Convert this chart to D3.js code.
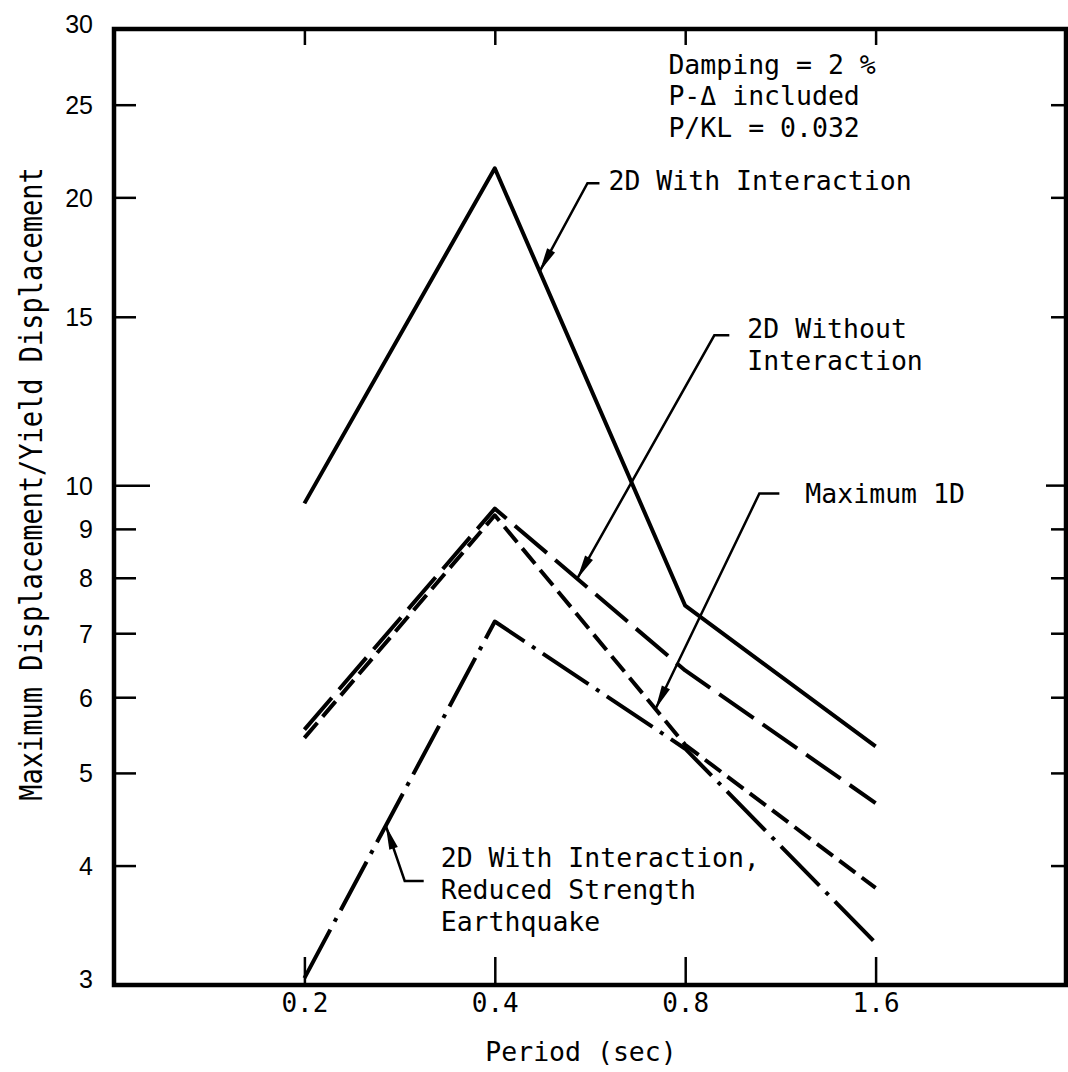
<!DOCTYPE html>
<html>
<head>
<meta charset="utf-8">
<script src="https://cdn.jsdelivr.net/npm/d3@7"></script>
<style>
  html, body { margin: 0; padding: 0; background: #fff; }
  svg { display: block; }
  .mono { font-family: "DejaVu Sans Mono", "Liberation Mono", monospace; fill: #000; }
  .sans { font-family: "Liberation Sans", Arial, sans-serif; fill: #000; }
</style>
</head>
<body>
<svg id="chart" width="1068" height="1072"></svg>
<script>
// Period (sec) and tick labels
const periods = [0.2, 0.4, 0.8, 1.6];
const periodLabels = ["0.2", "0.4", "0.8", "1.6"];
const ratioTicks = [30, 25, 20, 15, 10, 9, 8, 7, 6, 5, 4, 3];

// Maximum displacement / yield displacement for each case
const with2D      = [9.57, 21.45, 7.48, 5.33];  // 2D With Interaction
const without2D   = [5.55, 9.45, 6.40, 4.65];   // 2D Without Interaction
const maximum1D   = [5.44, 9.30, 5.35, 3.79];   // Maximum 1D
const reduced2D   = [3.05, 7.20, 5.30, 3.32];   // 2D With Interaction, Reduced Strength Earthquake

const seriesList = [with2D, without2D, maximum1D, reduced2D];
const seriesDash = [null, "42,11", "20,8", "55,9,4,9"];

const infoLines = ["Damping = 2 %", "P-\u0394 included", "P/KL = 0.032"];

// Callouts: label lines, text anchor (period, ratio), arrow tip on a series at a period
const notes = [
  { lines: ["2D With Interaction"], at: [0.605, 20.35], tip: { series: 0, period: 0.471 }, gap: 9,  hook: 12, hookDy: -7 },
  { lines: ["2D Without", "Interaction"], at: [1.003, 14.24], tip: { series: 1, period: 0.540 }, gap: 18, hook: 15, hookDy: -3 },
  { lines: ["Maximum 1D"], at: [1.239, 9.59], tip: { series: 2, period: 0.718 }, gap: 26, hook: 20, hookDy: -9 },
  { lines: ["2D With Interaction,", "Reduced Strength", "Earthquake"], at: [0.3285, 3.987], tip: { series: 3, period: 0.269 }, gap: 17, hook: 19, hookDy: 14 }
];

const svg = d3.select("#chart");
const box = { left: 114, right: 1066, top: 29, bottom: 985 };

const x = d3.scaleLog().domain([0.1, 3.2]).range([box.left, box.right]);
const y = d3.scaleLog().domain([3, 30]).range([box.bottom, box.top]);

// Axes with inward ticks
const gLeft = svg.append("g").attr("transform", `translate(${box.left},0)`)
  .call(d3.axisLeft(y).tickValues(ratioTicks).tickFormat(d3.format("d"))
    .tickSize(-22).tickSizeOuter(0).tickPadding(21));
gLeft.select(".domain").remove();
gLeft.selectAll(".tick line").attr("stroke", "#000").attr("stroke-width", 2.5)
  .attr("x2", d => d === 10 ? 36 : 22)
  .style("display", d => (d === 30 || d === 3) ? "none" : null);
gLeft.selectAll(".tick text").attr("class", "sans").attr("font-size", 25)
  .attr("dy", "0.36em")
  .attr("y", d => (d === 30 ? -6 : d === 3 ? -7 : 0));

const gRight = svg.append("g").attr("transform", `translate(${box.right},0)`)
  .call(d3.axisRight(y).tickValues(ratioTicks.filter(d => d !== 30 && d !== 3))
    .tickFormat("").tickSize(-16).tickSizeOuter(0));
gRight.select(".domain").remove();
gRight.selectAll(".tick line").attr("stroke", "#000").attr("stroke-width", 2.5)
  .attr("x2", d => d === 10 ? -20 : -15);

const gBottom = svg.append("g").attr("transform", `translate(0,${box.bottom})`)
  .call(d3.axisBottom(x).tickValues(periods).tickFormat((d, i) => periodLabels[i])
    .tickSize(-28).tickSizeOuter(0).tickPadding(0));
gBottom.select(".domain").remove();
gBottom.selectAll(".tick line").attr("stroke", "#000").attr("stroke-width", 2.5);
gBottom.selectAll(".tick text").attr("class", "mono").attr("font-size", 26)
  .attr("y", 27).attr("dy", null);

const gTop = svg.append("g").attr("transform", `translate(0,${box.top})`)
  .call(d3.axisTop(x).tickValues(periods).tickFormat("").tickSize(-16).tickSizeOuter(0));
gTop.select(".domain").remove();
gTop.selectAll(".tick line").attr("stroke", "#000").attr("stroke-width", 2.5);

svg.selectAll(".tick text").attr("fill", "#000");

// Frame
svg.append("rect")
  .attr("x", box.left).attr("y", box.top)
  .attr("width", box.right - box.left).attr("height", box.bottom - box.top)
  .attr("fill", "none").attr("stroke", "#000").attr("stroke-width", 4.5);

// Axis titles
svg.append("text").attr("class", "mono").attr("font-size", 26.5)
  .attr("x", 581).attr("y", 1061).attr("text-anchor", "middle")
  .text("Period (sec)");

svg.append("text").attr("class", "mono").attr("font-size", 27)
  .attr("text-anchor", "middle")
  .attr("transform", "translate(42,484) rotate(-90) scale(1,1.15)")
  .text("Maximum Displacement/Yield Displacement");

// Data lines
const line = d3.line().x((d, i) => x(periods[i])).y(d => y(d));
seriesList.forEach((s, k) => {
  svg.append("path")
    .attr("d", line(s))
    .attr("fill", "none")
    .attr("stroke", "#000")
    .attr("stroke-width", 4)
    .attr("stroke-linejoin", "round")
    .attr("stroke-dasharray", seriesDash[k]);
});

// Info block
const info = svg.append("text").attr("class", "mono").attr("font-size", 26.5)
  .attr("x", x(0.7525)).attr("y", y(26.92));
infoLines.forEach((t, i) => {
  info.append("tspan").attr("x", x(0.7525)).attr("dy", i === 0 ? 0 : 31.5).text(t);
});

// Value along a series at an arbitrary period (log-log interpolation)
function valueAt(series, p) {
  let i = 0;
  while (i < periods.length - 2 && p > periods[i + 1]) i++;
  const t = Math.log(p / periods[i]) / Math.log(periods[i + 1] / periods[i]);
  return Math.exp(Math.log(series[i]) + t * (Math.log(series[i + 1]) - Math.log(series[i])));
}

// Callouts
notes.forEach(n => {
  const tx = x(n.at[0]), ty = y(n.at[1]);
  const g = svg.append("g");
  const txt = g.append("text").attr("class", "mono").attr("font-size", 26.5)
    .attr("x", tx).attr("y", ty);
  n.lines.forEach((t, i) => {
    txt.append("tspan").attr("x", tx).attr("dy", i === 0 ? 0 : 32).text(t);
  });
  const hy = ty + n.hookDy;
  const hx1 = tx - n.gap, hx0 = hx1 - n.hook;
  const px = x(n.tip.period), py = y(valueAt(seriesList[n.tip.series], n.tip.period));
  g.append("path")
    .attr("d", `M${hx1},${hy}L${hx0},${hy}L${px},${py}`)
    .attr("fill", "none").attr("stroke", "#000").attr("stroke-width", 2.5)
    .attr("stroke-linejoin", "miter");
  // arrowhead
  const dx = px - hx0, dy = py - hy, len = Math.hypot(dx, dy);
  const ux = dx / len, uy = dy / len, L = 24, Wd = 4.5;
  const bx = px - ux * L, by = py - uy * L;
  g.append("path")
    .attr("d", `M${px},${py}L${bx - uy * Wd},${by + ux * Wd}L${bx + uy * Wd},${by - ux * Wd}Z`)
    .attr("fill", "#000");
});
</script>
</body>
</html>
